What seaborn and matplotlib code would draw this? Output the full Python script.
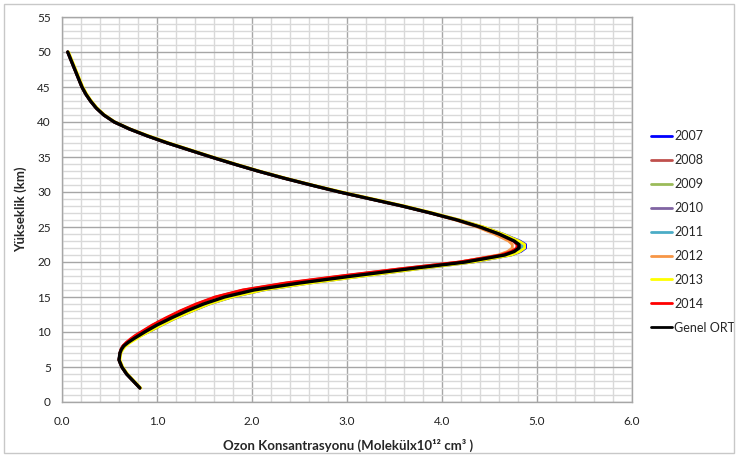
import pandas as pd
import matplotlib.pyplot as plt
import seaborn as sns
from matplotlib.patches import Rectangle
from matplotlib.ticker import MultipleLocator

# heights (km): every km, with half-km steps in the low bend and round the peak
heights = (list(range(2, 8)) + [7.5, 8, 8.5, 9, 9.5] + list(range(10, 22))
           + [21.5, 22, 22.5] + list(range(23, 51)))

genel = [0.82, 0.75, 0.68, 0.63, 0.60, 0.61,
         0.625, 0.65, 0.695, 0.75, 0.81,
         0.87, 1.00, 1.15, 1.31, 1.49, 1.71, 2.02, 2.50, 3.06, 3.64, 4.25, 4.66,
         4.76, 4.81, 4.81,
         4.76, 4.60, 4.40, 4.16, 3.88, 3.58, 3.25, 2.92,
         2.62, 2.33, 2.06, 1.81, 1.57, 1.34, 1.11, 0.90, 0.71, 0.55,
         0.44, 0.36, 0.30, 0.25, 0.21, 0.18, 0.15, 0.12, 0.09, 0.06]
y2007 = [0.82, 0.75, 0.68, 0.63, 0.60, 0.61,
         0.625, 0.65, 0.70, 0.76, 0.83,
         0.91, 1.05, 1.20, 1.37, 1.55, 1.79, 2.12, 2.61, 3.17, 3.73, 4.33, 4.73,
         4.83, 4.88, 4.88,
         4.82, 4.64, 4.43, 4.18, 3.88, 3.58, 3.25, 2.92,
         2.62, 2.33, 2.06, 1.81, 1.57, 1.34, 1.11, 0.90, 0.71, 0.55,
         0.44, 0.36, 0.30, 0.25, 0.21, 0.18, 0.15, 0.12, 0.09, 0.06]
y2008 = [0.82, 0.75, 0.68, 0.63, 0.60, 0.61,
         0.62, 0.64, 0.68, 0.73, 0.78,
         0.84, 0.96, 1.10, 1.25, 1.42, 1.62, 1.91, 2.37, 2.95, 3.55, 4.19, 4.62,
         4.73, 4.79, 4.79,
         4.75, 4.60, 4.40, 4.16, 3.88, 3.58, 3.25, 2.92,
         2.62, 2.33, 2.06, 1.81, 1.57, 1.34, 1.11, 0.90, 0.71, 0.55,
         0.44, 0.36, 0.30, 0.25, 0.21, 0.18, 0.15, 0.12, 0.09, 0.06]
y2009 = [0.82, 0.75, 0.68, 0.63, 0.60, 0.61,
         0.625, 0.65, 0.695, 0.75, 0.81,
         0.88, 1.01, 1.16, 1.32, 1.50, 1.73, 2.04, 2.52, 3.08, 3.66, 4.27, 4.68,
         4.78, 4.83, 4.83,
         4.78, 4.61, 4.41, 4.16, 3.88, 3.58, 3.25, 2.92,
         2.62, 2.33, 2.06, 1.81, 1.57, 1.34, 1.11, 0.90, 0.71, 0.55,
         0.44, 0.36, 0.30, 0.25, 0.21, 0.18, 0.15, 0.12, 0.09, 0.06]
y2010 = [0.82, 0.75, 0.68, 0.63, 0.60, 0.61,
         0.625, 0.65, 0.695, 0.75, 0.81,
         0.87, 1.00, 1.15, 1.32, 1.50, 1.72, 2.03, 2.51, 3.07, 3.65, 4.26, 4.67,
         4.77, 4.82, 4.82,
         4.77, 4.60, 4.40, 4.16, 3.88, 3.58, 3.25, 2.92,
         2.62, 2.33, 2.06, 1.81, 1.57, 1.34, 1.11, 0.90, 0.71, 0.55,
         0.44, 0.36, 0.30, 0.25, 0.21, 0.18, 0.15, 0.12, 0.09, 0.06]
y2011 = [0.82, 0.75, 0.68, 0.63, 0.60, 0.61,
         0.625, 0.65, 0.70, 0.76, 0.82,
         0.89, 1.02, 1.17, 1.34, 1.52, 1.75, 2.06, 2.54, 3.10, 3.68, 4.29, 4.70,
         4.80, 4.85, 4.85,
         4.79, 4.62, 4.41, 4.17, 3.88, 3.58, 3.25, 2.92,
         2.62, 2.33, 2.06, 1.81, 1.57, 1.34, 1.11, 0.90, 0.71, 0.55,
         0.44, 0.36, 0.30, 0.25, 0.21, 0.18, 0.15, 0.12, 0.09, 0.06]
y2012 = [0.82, 0.75, 0.68, 0.63, 0.60, 0.61,
         0.625, 0.65, 0.695, 0.75, 0.81,
         0.87, 1.00, 1.14, 1.30, 1.47, 1.68, 1.98, 2.45, 3.01, 3.59, 4.19, 4.59,
         4.69, 4.74, 4.74,
         4.70, 4.55, 4.37, 4.14, 3.88, 3.58, 3.25, 2.92,
         2.62, 2.33, 2.06, 1.81, 1.57, 1.34, 1.11, 0.90, 0.71, 0.55,
         0.44, 0.36, 0.30, 0.25, 0.21, 0.18, 0.15, 0.12, 0.09, 0.06]
y2013 = [0.83, 0.76, 0.69, 0.64, 0.61, 0.62,
         0.64, 0.67, 0.72, 0.78, 0.84,
         0.91, 1.05, 1.20, 1.37, 1.55, 1.79, 2.12, 2.62, 3.18, 3.74, 4.33, 4.73,
         4.82, 4.87, 4.87,
         4.81, 4.64, 4.44, 4.19, 3.91, 3.61, 3.28, 2.95,
         2.64, 2.35, 2.08, 1.83, 1.59, 1.36, 1.13, 0.92, 0.72, 0.56,
         0.45, 0.37, 0.31, 0.26, 0.22, 0.19, 0.16, 0.13, 0.10, 0.07]
y2014 = [0.82, 0.75, 0.68, 0.63, 0.60, 0.61,
         0.62, 0.64, 0.675, 0.72, 0.77,
         0.83, 0.95, 1.09, 1.24, 1.41, 1.61, 1.90, 2.35, 2.93, 3.54, 4.18, 4.62,
         4.73, 4.79, 4.79,
         4.75, 4.60, 4.40, 4.16, 3.88, 3.58, 3.25, 2.92,
         2.62, 2.33, 2.06, 1.81, 1.57, 1.34, 1.11, 0.90, 0.71, 0.55,
         0.44, 0.36, 0.30, 0.25, 0.21, 0.18, 0.15, 0.12, 0.09, 0.06]

series_names = ["2007", "2008", "2009", "2010", "2011", "2012", "2013", "2014", "Genel ORT"]
series_vals = [y2007, y2008, y2009, y2010, y2011, y2012, y2013, y2014, genel]
colors = ["#0000ff", "#c0504d", "#9bbb59", "#8064a2", "#4bacc6",
          "#f79646", "#ffff00", "#ff0000", "#000000"]

sns.set_style("white")
plt.rcParams['font.family'] = ['Lato', 'DejaVu Sans']

fig = plt.figure(figsize=(7.38, 4.57), dpi=100)
ax = fig.add_axes([62/738, 55/457, 570/738, 385/457])

for name, vals, col in zip(series_names, series_vals, colors):
    d = pd.DataFrame({"ozon": vals, "h": heights})
    lw = 2.4 if name == "Genel ORT" else 2.0
    sns.lineplot(data=d, x="ozon", y="h", sort=False, estimator=None,
                 color=col, lw=lw, label=name, ax=ax, zorder=3,
                 solid_capstyle="round", solid_joinstyle="round")

ax.set_xlim(0, 6)
ax.set_ylim(0, 55)
ax.xaxis.set_major_locator(MultipleLocator(1))
ax.xaxis.set_minor_locator(MultipleLocator(0.2))
ax.yaxis.set_major_locator(MultipleLocator(5))
ax.yaxis.set_minor_locator(MultipleLocator(1))
ax.set_xticklabels([f"{v:.1f}" for v in ax.get_xticks()])
ax.grid(which="minor", color="#d9d9d9", lw=1.0, zorder=0)
ax.grid(which="major", color="#a6a6a6", lw=1.0, zorder=1)
ax.set_axisbelow(True)
for s in ax.spines.values():
    s.set_color("#a6a6a6")
    s.set_linewidth(1.0)
ax.tick_params(which="major", direction="out", length=4, width=0.8,
               color="#868686", labelsize=8.5, labelcolor="#222222")
ax.tick_params(axis="x", pad=6)
ax.tick_params(axis="y", pad=4)
ax.tick_params(which="minor", length=0)

ax.set_xlabel("Ozon Konsantrasyonu (Molekülx10¹² cm³ )", fontsize=9.5,
              fontweight="bold")
ax.set_ylabel("Yükseklik (km)", fontsize=9.5, fontweight="bold")
ax.xaxis.set_label_coords(0.502, -0.095)
ax.yaxis.set_label_coords(-0.061, 0.5)

leg = ax.legend(loc="upper left", bbox_to_anchor=(651/738, 1 - 130.5/457),
                bbox_transform=fig.transFigure, frameon=False, fontsize=9,
                handlelength=1.65, handletextpad=0.2, labelspacing=0.95,
                borderaxespad=0, borderpad=0)
for line in leg.get_lines():
    line.set_linewidth(2.0)

fig.patches.append(Rectangle((4/738, 4/457), 730/738, 449/457,
                             transform=fig.transFigure, fill=False,
                             edgecolor="#c8c8c8", lw=1.0))

fig.savefig("out.png", dpi=100)
